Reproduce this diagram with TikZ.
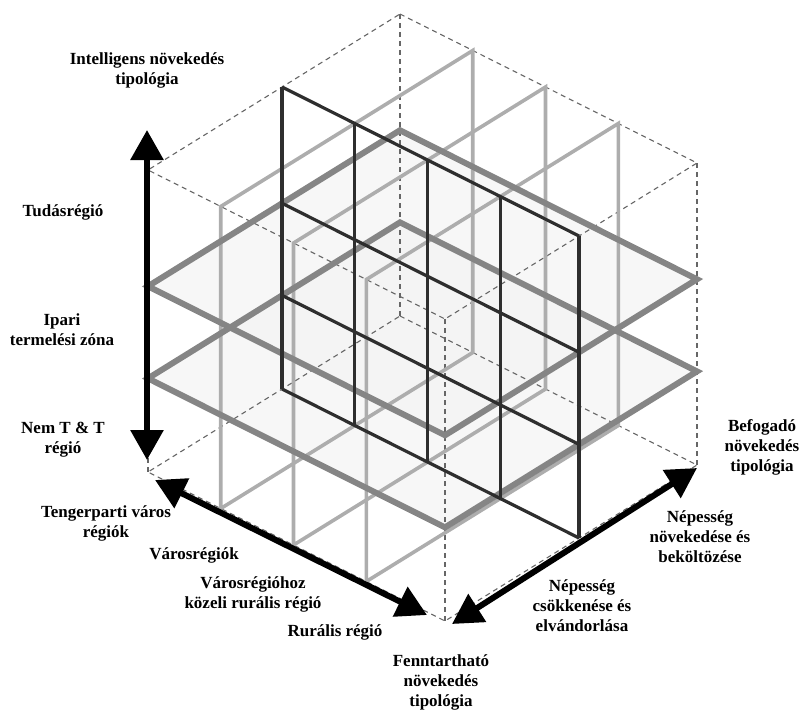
\documentclass[tikz,border=0pt]{standalone}
\usepackage{fontspec}
\setmainfont{Liberation Serif}
\usetikzlibrary{arrows.meta}
\begin{document}
\begin{tikzpicture}[x=1pt,y=-1pt,
    frame/.style={black!60, line width=1.1pt, dash pattern=on 5pt off 4pt},
    pale/.style={black!32, line width=3.6pt},
    slab/.style={black!48, line width=6pt},
    wall/.style={black!82, line width=3.2pt},
    axis/.style={line width=6pt, {Triangle[length=30pt,width=32pt]}-{Triangle[length=30pt,width=32pt]}},
    lab/.style={font=\bfseries\fontsize{17}{20}\selectfont, align=center}]
        \useasboundingbox (0,0) rectangle (805,709);
        \begin{scope}[shift={(400,14)}, x={(297pt,-149pt)}, y={(-252pt,-156pt)}, z={(0pt,-302pt)}]
           \foreach \w in {0.385,0.69} {
              \fill[black!5, fill opacity=.6] (0,0,\w) -- (1,0,\w) -- (1,1,\w) -- (0,1,\w) -- cycle;
           }
           \draw[frame] (0,0,0) -- (1,0,0) -- (1,1,0) -- (0,1,0) -- cycle
                        (0,0,1) -- (1,0,1) -- (1,1,1) -- (0,1,1) -- cycle;
           \foreach \u/\v in {0/0,1/0,1/1,0/1} {
              \draw[frame] (\u,\v,0) -- (\u,\v,1);
           }
           \foreach \u in {0.245,0.49,0.735} {
              \draw[pale] (\u,0,0) -- (\u,1,0) -- (\u,1,1) -- (\u,0,1) -- cycle;
           }
           \foreach \w in {0.385,0.69} {
              \draw[slab] (0,0,\w) -- (1,0,\w) -- (1,1,\w) -- (0,1,\w) -- cycle;
           }
           \foreach \u in {0,0.245,0.49,0.735,1} {
              \draw[wall] (\u,0.468,0) -- (\u,0.468,1);
           }
           \foreach \w in {0,0.385,0.69,1} {
              \draw[wall] (0,0.468,\w) -- (1,0.468,\w);
           }
        \end{scope}
        \coordinate (zt) at (147,130);
        \coordinate (zb) at (147,460);
        \coordinate (ul) at (155,480);
        \coordinate (ur) at (427,615);
        \coordinate (vl) at (452,624);
        \coordinate (vr) at (697,468);
        \draw[axis] (zb) -- (zt);
        \draw[axis] (ul) -- (ur);
        \draw[axis] (vl) -- (vr);
        \node[lab] (intel) at (147,70) {Intelligens növekedés\\tipológia};
        \node[lab] (tudas) at (63,212) {Tudásrégió};
        \node[lab] (ipari) at (62,330) {Ipari\\termelési zóna};
        \node[lab] (nemtt) at (63,440) {Nem T \& T\\régió};
        \node[lab] (teng) at (106,523) {Tengerparti város\\régiók};
        \node[lab] (varos) at (194,555) {Városrégiók};
        \node[lab] (kozel) at (253,594) {Városrégióhoz\\közeli rurális régió};
        \node[lab] (rural) at (335,632) {Rurális régió};
        \node[lab] (fennt) at (441,682) {Fenntartható\\növekedés\\tipológia};
        \node[lab] (csokk) at (582,606) {Népesség\\csökkenése és\\elvándorlása};
        \node[lab] (novek) at (700,537) {Népesség\\növekedése és\\beköltözése};
        \node[lab] (befog) at (762,447) {Befogadó\\növekedés\\tipológia};
\end{tikzpicture}
\end{document}
